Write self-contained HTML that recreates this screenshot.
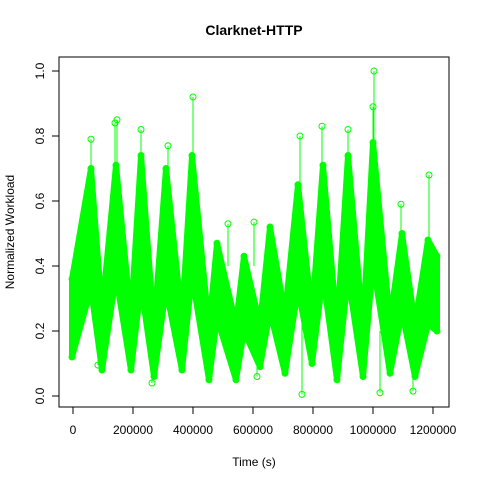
<!DOCTYPE html>
<html><head><meta charset="utf-8"><style>
body{margin:0;background:#fff}
svg text{font-family:"Liberation Sans",Arial,sans-serif;fill:#000}
</style></head><body>
<svg id="chart" width="480" height="480" viewBox="0 0 480 480" xmlns="http://www.w3.org/2000/svg">
<rect width="480" height="480" fill="#fff"/>
<text x="254" y="35" font-size="14" font-weight="bold" text-anchor="middle">Clarknet-HTTP</text>
<text x="254" y="466" font-size="12" text-anchor="middle">Time (s)</text>
<text transform="translate(14,232) rotate(-90)" font-size="12" text-anchor="middle">Normalized Workload</text>
<g id="plot"></g>
<rect x="59" y="57" width="390" height="350" fill="none" stroke="#000" stroke-width="1"/>
</svg>
<script>
// Envelope samples (time in seconds, workload hi/lo)
const times = [-3300,60000,96700,143300,193300,226700,270000,310000,363300,396700,453300,480000,543300,570000,623300,656700,706700,750000,796700,833300,880000,916700,966700,1000000,1056700,1096700,1140000,1183300,1213300];
const hiVals = [0.36,0.70,0.26,0.71,0.24,0.74,0.21,0.70,0.24,0.74,0.21,0.47,0.22,0.43,0.22,0.52,0.25,0.65,0.25,0.71,0.21,0.74,0.21,0.78,0.23,0.50,0.22,0.48,0.43];
const loVals = [0.12,0.33,0.08,0.37,0.08,0.34,0.06,0.33,0.08,0.37,0.05,0.24,0.05,0.20,0.09,0.26,0.07,0.33,0.10,0.37,0.05,0.37,0.06,0.41,0.07,0.26,0.06,0.22,0.20];
// Outlier spikes
const spikeT = [60000,140000,146700,226700,316700,400000,516700,603300,756700,830000,916700,1003300,1000000,1093300,1186700,83300,263300,613300,763300,1023300,1133300];
const spikeV = [0.79,0.84,0.85,0.82,0.77,0.92,0.53,0.535,0.80,0.83,0.82,1.00,0.89,0.59,0.68,0.095,0.04,0.06,0.005,0.01,0.015];
const spikeBase = [0.60,0.65,0.65,0.65,0.60,0.70,0.40,0.40,0.55,0.60,0.60,0.70,0.70,0.45,0.45,0.30,0.15,0.20,0.25,0.20,0.20];
const xTicks = [0,200000,400000,600000,800000,1000000,1200000];
const yTicks = [0,0.2,0.4,0.6,0.8,1.0];
const xTickLabels = ["0","200000","400000","600000","800000","1000000","1200000"];
const yTickLabels = ["0.0","0.2","0.4","0.6","0.8","1.0"];

const NS="http://www.w3.org/2000/svg";
const X = t => 73 + t*0.0003;
const Y = v => 396 - v*325;
const g = document.getElementById('plot');
function mk(tag, attrs){const e=document.createElementNS(NS,tag);for(const k in attrs)e.setAttribute(k,attrs[k]);g.appendChild(e);return e;}

for(let i=0;i<spikeT.length;i++){
  const l = mk('line',{x1:X(spikeT[i]),x2:X(spikeT[i]),y1:Y(spikeBase[i]),y2:Y(spikeV[i]),stroke:'#00ff00','stroke-width':'1'});
  
  
  const c = mk('circle',{cx:X(spikeT[i]),cy:Y(spikeV[i]),r:3,fill:'none',stroke:'#00ff00'});
  
  
}
// band (dense points region)
const n = Math.min(times.length, hiVals.length, loVals.length);
let pts=[];
for(let i=0;i<n;i++)pts.push(X(times[i])+','+Y(hiVals[i]));
for(let i=n-1;i>=0;i--)pts.push(X(times[i])+','+Y(loVals[i]));
const band = mk('polygon',{points:pts.join(' '),fill:'#00ff00',stroke:'#00ff00','stroke-width':'6','stroke-linejoin':'round'});


for(let i=0;i<n;i++){
  [hiVals[i],loVals[i]].forEach(v=>{
    const c = mk('circle',{cx:X(times[i]),cy:Y(v),r:3,fill:'none',stroke:'#00ff00'});
    
    
  });
}
// axes
const xa = mk('line',{x1:X(xTicks[0]),x2:X(xTicks[xTicks.length-1]),y1:407,y2:407,stroke:'#000'});


xTicks.forEach((t,i)=>{
  const tk = mk('line',{x1:X(t),x2:X(t),y1:407,y2:414,stroke:'#000'});
  
  
  const tx = mk('text',{x:X(t),y:434,'font-size':'12','text-anchor':'middle'});
  tx.textContent = xTickLabels[i];
  
  
});
const ya = mk('line',{x1:59,x2:59,y1:Y(yTicks[0]),y2:Y(yTicks[yTicks.length-1]),stroke:'#000'});


yTicks.forEach((v,i)=>{
  const tk = mk('line',{x1:52,x2:59,y1:Y(v),y2:Y(v),stroke:'#000'});
  
  
  const tx = mk('text',{x:0,y:0,'font-size':'12','text-anchor':'middle',transform:'translate(44,'+Y(v)+') rotate(-90)'});
  tx.textContent = yTickLabels[i];
  
  
});
</script>
</body></html>
